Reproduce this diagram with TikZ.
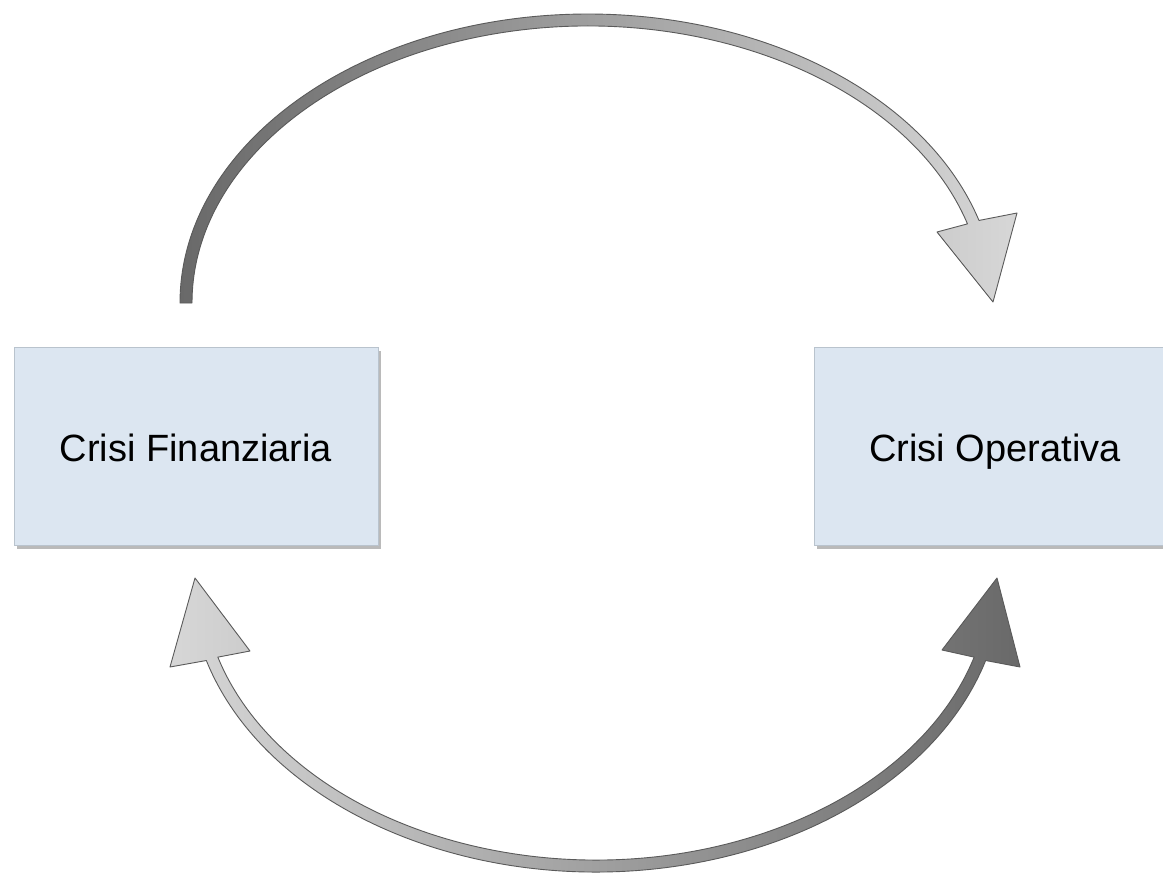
\documentclass[tikz,border=0pt]{standalone}
\usepackage{fontspec}
\setmainfont{Liberation Sans}
\usetikzlibrary{shadows,calc}
\definecolor{boxfill}{RGB}{220,230,241}
\definecolor{boxline}{RGB}{185,195,205}
\definecolor{arrdark}{RGB}{105,105,105}
\definecolor{arrmid}{RGB}{170,170,170}
\definecolor{arrlight}{RGB}{215,215,215}
\definecolor{arrline}{RGB}{90,90,90}
\begin{document}
\begin{tikzpicture}[x=1pt,y=-1pt,
  crisis/.style={draw=boxline, line width=0.8pt, fill=boxfill, minimum height=198pt, inner sep=0pt,
    text height=31pt, text depth=0pt,
    font=\fontsize{38}{46}\selectfont,
    drop shadow={shadow xshift=3pt, shadow yshift=-4pt, opacity=0.45, fill=black!60}},
  shaft/.style={draw=arrline, line width=0.9pt, line join=round}]
\useasboundingbox (0,0) rectangle (1163,879);
\node[crisis, minimum width=364pt] (fin) at (196,446) {Crisi Finanziaria};
\node[crisis, minimum width=362pt] (op) at (995,446) {Crisi Operativa};

% top arrow: from Crisi Finanziaria to Crisi Operativa
\coordinate (tc) at (588,303);
\path[shaft, left color=arrdark, right color=arrlight]
  ($(tc)+(180:408 and 289)$) arc[start angle=180, end angle=343.4, x radius=408, y radius=289]
  -- (1017,213) -- (993,302) -- (937,232)
  -- ($(tc)+(343.4:396 and 277)$) arc[start angle=343.4, end angle=180, x radius=396, y radius=277]
  -- cycle;

% bottom double arrow
\coordinate (bc) at (596,578);
\path[shaft, left color=arrlight, middle color=arrmid!60!arrlight, right color=arrdark]
  ($(bc)+(163.7:406 and 294)$) arc[start angle=163.7, end angle=16.3, x radius=406, y radius=294]
  -- (1020,667) -- (997,578) -- (942,650)
  -- ($(bc)+(16.3:394 and 282)$) arc[start angle=16.3, end angle=163.7, x radius=394, y radius=282]
  -- (250,651) -- (195,578) -- (170,667)
  -- cycle;
\end{tikzpicture}
\end{document}
